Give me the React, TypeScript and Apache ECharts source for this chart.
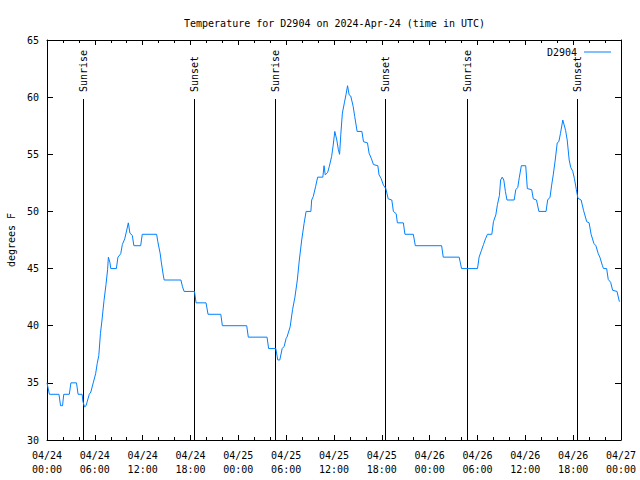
import React, { useEffect, useRef } from "react";
import * as echarts from "echarts";

// hours since 2024-04-24 00:00 UTC
const hours = [
  0.0, 0.3, 1.5, 1.7, 1.95, 2.1, 2.8, 3.0, 3.7, 3.9, 4.4, 4.5, 4.7, 4.9, 5.06, 5.3, 5.5, 5.8, 6.1, 6.3,
  6.5, 6.7, 6.9, 7.15, 7.4, 7.6, 7.7, 7.9, 8.0, 8.7, 8.9, 9.25, 9.45, 9.75, 9.95, 10.2, 10.4, 10.7, 10.9, 11.75,
  11.95, 13.75, 13.9, 14.2, 14.35, 14.6, 14.7, 16.8, 17.0, 17.2, 18.5, 18.7, 19.95, 20.2, 21.8, 22.0, 25.05, 25.25, 27.6, 27.8,
  28.7, 28.95, 29.2, 29.5, 29.75, 30.0, 30.1, 30.5, 30.8, 31.1, 31.4, 31.65, 31.95, 32.25, 32.5, 33.1, 33.2, 33.4, 33.7, 33.95,
  34.6, 34.75, 34.9, 35.2, 35.4, 35.7, 35.9, 36.1, 36.35, 36.55, 36.7, 36.85, 37.05, 37.3, 37.5, 37.7, 37.9, 38.1, 38.4, 38.6,
  38.9, 39.5, 39.7, 40.2, 40.4, 40.7, 40.95, 41.5, 41.65, 41.9, 42.2, 42.5, 42.8, 43.25, 43.45, 43.8, 43.95, 44.7, 44.9, 45.95,
  46.2, 49.5, 49.7, 51.7, 52.0, 54.0, 54.2, 54.5, 54.75, 55.0, 55.25, 55.8, 56.0, 56.3, 56.5, 56.75, 56.9, 57.1, 57.3, 57.5,
  57.7, 58.6, 58.8, 59.05, 59.25, 59.5, 60.05, 60.25, 60.8, 61.0, 61.4, 61.7, 62.6, 62.8, 63.1, 63.3, 63.5, 63.75, 64.0, 64.2,
  64.4, 64.7, 65.05, 65.25, 65.5, 65.7, 65.95, 66.15, 66.4, 66.6, 67.0, 67.3, 67.7, 68.0, 68.25, 68.6, 68.85, 69.15, 69.35, 69.65,
  69.8, 70.2, 70.4, 70.7, 70.95, 71.5, 71.8,
];

const tempsF = [
  35.0, 34.0, 34.0, 33.0, 33.0, 34.0, 34.0, 35.0, 35.0, 34.0, 34.0, 33.4, 32.9, 33.0, 33.4, 34.0, 34.2, 35.0, 35.8, 36.7,
  37.4, 39.3, 40.5, 42.2, 43.6, 44.9, 46.0, 45.5, 45.0, 45.0, 46.0, 46.3, 47.1, 47.6, 48.2, 49.0, 48.1, 47.9, 47.0, 47.0,
  48.0, 48.0, 47.35, 46.3, 45.5, 44.35, 44.0, 44.0, 43.4, 43.0, 43.0, 42.0, 42.0, 41.0, 41.0, 40.0, 40.0, 39.0, 39.0, 38.0,
  38.0, 37.0, 37.0, 38.0, 38.2, 38.9, 39.0, 39.9, 41.4, 42.5, 44.0, 45.75, 47.5, 48.96, 50.0, 50.0, 51.0, 51.3, 52.2, 53.0,
  53.0, 54.0, 53.2, 53.4, 53.9, 54.8, 55.8, 57.0, 56.25, 55.4, 55.0, 56.7, 58.6, 59.5, 60.2, 61.0, 60.2, 60.1, 59.2, 58.3,
  57.0, 57.0, 56.1, 56.0, 55.1, 54.6, 54.1, 54.0, 53.2, 52.9, 52.3, 52.0, 51.1, 51.0, 50.0, 49.8, 49.0, 49.0, 48.0, 48.0,
  47.0, 47.0, 46.0, 46.0, 45.0, 45.0, 46.0, 46.6, 47.1, 47.6, 48.0, 48.0, 49.1, 49.7, 50.6, 51.4, 52.75, 53.0, 52.75, 51.75,
  51.0, 51.0, 51.9, 52.1, 53.0, 54.0, 54.0, 52.0, 51.9, 51.1, 51.0, 50.0, 50.0, 51.0, 51.25, 52.3, 53.2, 54.5, 56.0, 56.1,
  56.8, 58.0, 57.1, 56.25, 54.5, 53.85, 53.5, 52.9, 51.9, 51.15, 51.0, 50.1, 49.1, 49.0, 48.0, 47.2, 47.0, 46.3, 46.0, 45.3,
  45.0, 45.0, 44.05, 43.8, 43.1, 43.0, 42.1,
];

const sunHours = [4.64, 18.44, 28.6, 42.5, 52.7, 66.6];
const sunLabels = ["Sunrise", "Sunset", "Sunrise", "Sunset", "Sunrise", "Sunset"];

const yTicks = { min: 30, max: 65, interval: 5 };
const xTicks = { min: 0, max: 72, interval: 6 };

const FONT = "DejaVu Sans Mono";

function fmtX(v: number): string {
  const day = 24 + Math.floor(v / 24);
  const hh = Math.round(v % 24);
  return `04/${day}\n${String(hh).padStart(2, "0")}:00`;
}

export default function App() {
  const ref = useRef<HTMLDivElement>(null);
  useEffect(() => {
    if (!ref.current) return;
    const chart = echarts.init(ref.current, undefined, { renderer: "svg" });
    const axisLine = { show: true, onZero: false, lineStyle: { color: "#000", width: 1 } };
    const baseX = {
      type: "value",
      min: xTicks.min,
      max: xTicks.max,
      interval: xTicks.interval,
      axisLine,
      splitLine: { show: false },
      axisTick: { show: true, inside: true, length: 5, lineStyle: { color: "#000" } },
      minorTick: { show: true, splitNumber: 3, length: 3, lineStyle: { color: "#000" } },
    };
    const baseY = {
      type: "value",
      min: yTicks.min,
      max: yTicks.max,
      interval: yTicks.interval,
      axisLine,
      splitLine: { show: false },
      axisTick: { show: true, inside: true, length: 6, lineStyle: { color: "#000" } },
    };
    const option: any = {
      animation: false,
      backgroundColor: "#fff",
      title: {
        text: "Temperature for D2904 on 2024-Apr-24 (time in UTC)",
        left: 179,
        top: 13,
        textStyle: { fontFamily: FONT, fontSize: 10, fontWeight: "normal", color: "#000" },
      },
      legend: {
        data: ["D2904"],
        right: 24,
        top: 42,
        align: "right",
        icon: "rect",
        itemWidth: 27,
        itemHeight: 1,
        textStyle: { fontFamily: FONT, fontSize: 10, color: "#000", padding: [0, 2, 0, 0] },
      },
      grid: { left: 47, right: 19, top: 40, bottom: 40, containLabel: false, outerBoundsMode: "none" },
      xAxis: [
        {
          ...baseX,
          position: "bottom",
          axisLabel: {
            formatter: fmtX,
            fontFamily: FONT,
            fontSize: 10,
            color: "#000",
            lineHeight: 14,
            margin: 8,
          },
        },
        { ...baseX, position: "top", axisLabel: { show: false } },
      ],
      yAxis: [
        {
          ...baseY,
          position: "left",
          name: "degrees F",
          nameLocation: "middle",
          nameGap: 31,
          nameRotate: 90,
          nameTextStyle: { fontFamily: FONT, fontSize: 10, color: "#000" },
          axisLabel: { fontFamily: FONT, fontSize: 10, color: "#000", margin: 8 },
        },
        { ...baseY, position: "right", axisLabel: { show: false } },
      ],
      series: [
        {
          name: "D2904",
          type: "line",
          xAxisIndex: 0,
          yAxisIndex: 0,
          data: hours.map((h, i) => [h, tempsF[i]]),
          showSymbol: false,
          symbol: "none",
          lineStyle: { color: "#0080ff", width: 1 },
          itemStyle: { color: "#0080ff" },
        },
        {
          name: "sun",
          type: "custom",
          xAxisIndex: 0,
          yAxisIndex: 0,
          data: sunHours.map((h) => [h]),
          renderItem: (params: any, api: any) => {
            const h = api.value(0);
            const top = api.coord([h, 59.8]);
            const bottom = api.coord([h, 30]);
            const lab = api.coord([h, 60.45]);
            const px = Math.floor(top[0]) + 0.5;
            return {
              type: "group",
              children: [
                {
                  type: "line",
                  shape: { x1: px, y1: Math.round(top[1]), x2: px, y2: bottom[1] },
                  style: { stroke: "#000", lineWidth: 1 },
                },
                {
                  type: "text",
                  x: lab[0],
                  y: lab[1],
                  rotation: Math.PI / 2,
                  style: {
                    text: sunLabels[params.dataIndex],
                    fontFamily: FONT,
                    fontSize: 10,
                    fill: "#000",
                    align: "left",
                    verticalAlign: "middle",
                  },
                },
              ],
            };
          },
        },
      ],
    };
    chart.setOption(option);
    return () => chart.dispose();
  }, []);
  return (
    <div
      ref={ref}
      style={{ position: "fixed", left: 0, top: 0, width: 640, height: 480 }}
    />
  );
}
